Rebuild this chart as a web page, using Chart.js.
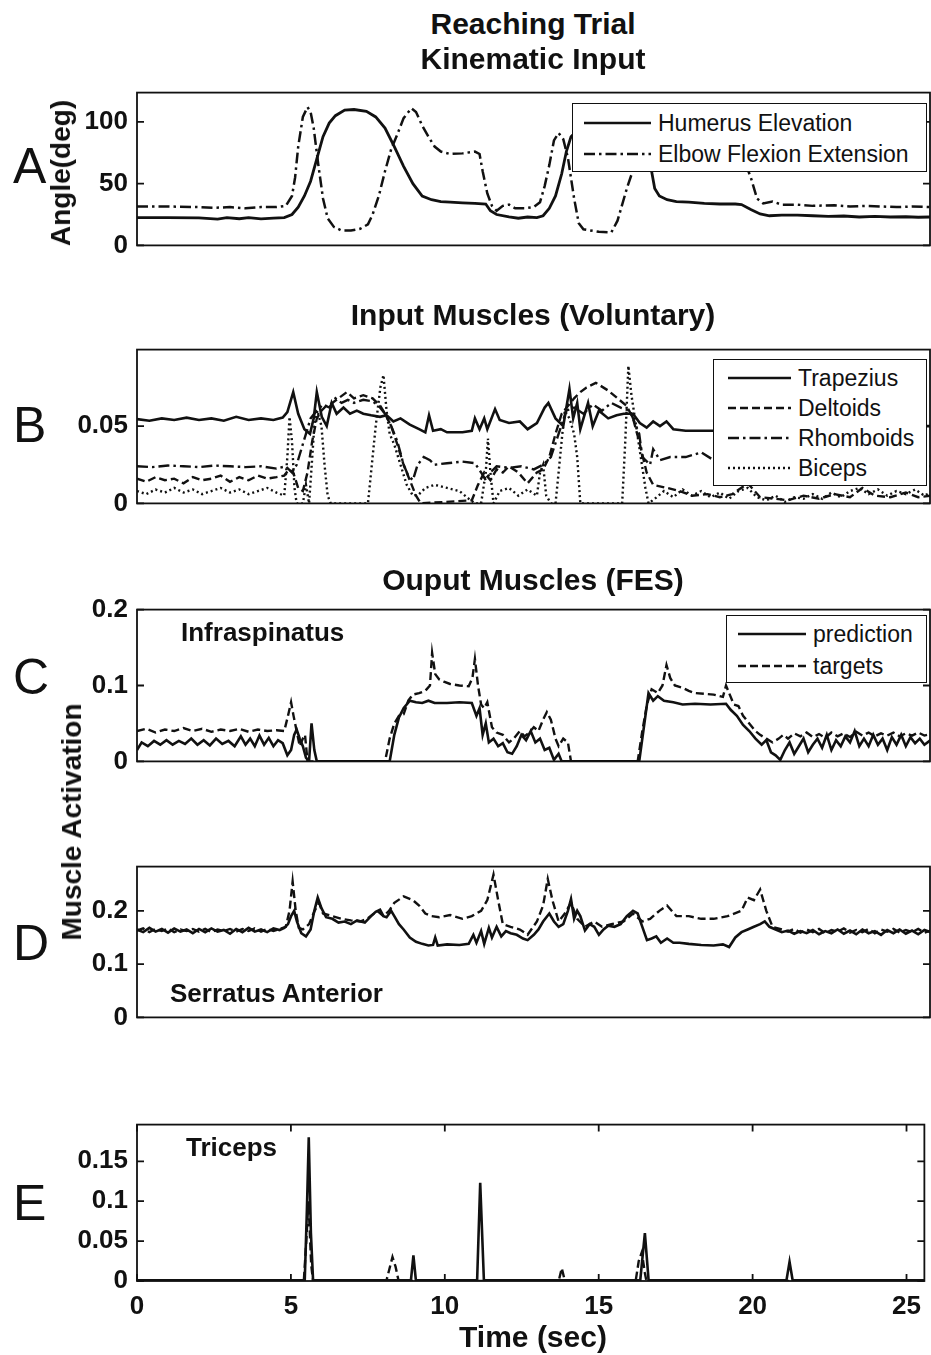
<!DOCTYPE html>
<html><head><meta charset="utf-8">
<script src="https://cdn.jsdelivr.net/npm/chart.js@4.4.1/dist/chart.umd.min.js"></script>
<style>
html,body{margin:0;padding:0;background:#fff;}
#fig{position:relative;width:931px;height:1355px;overflow:hidden;background:#fff;font-family:'Liberation Sans',Arial,sans-serif;color:#111;}
canvas{position:absolute;left:0;}
.t{position:absolute;white-space:nowrap;line-height:1;}
.title{font-weight:bold;font-size:30px;transform:translate(-50%,-50%);}
.letter{font-size:50px;transform:translateY(-50%);}
.ylab{font-weight:bold;font-size:28px;transform:translate(-50%,-50%) rotate(-90deg);}
.inlab{font-weight:bold;font-size:26px;transform:translateY(-50%);}
.legend{position:absolute;background:#fff;border:1.6px solid #111;box-sizing:border-box;z-index:5;}
.legend svg{position:absolute;overflow:visible;}
.legend span{position:absolute;font-size:23px;line-height:1;white-space:nowrap;transform:translateY(-50%);}
</style></head>
<body><div id="fig"></div>
<script>
// ---------------- DATA ----------------
const xMax = 25.58;
const ticksX = [0, 5, 10, 15, 20, 25];
const ticksA = [0, 50, 100];
const ticksB = [0, 0.05];
const ticksC = [0, 0.1, 0.2];
const ticksD = [0, 0.1, 0.2];
const ticksE = [0, 0.05, 0.1, 0.15];

const legendA = ['Humerus Elevation', 'Elbow Flexion Extension'];
const legendB = ['Trapezius', 'Deltoids', 'Rhomboids', 'Biceps'];
const legendC = ['prediction', 'targets'];

// Panel A: kinematic input (deg)
const tHum = [0,1,2,2.6,2.9,3.3,3.6,4.0,4.4,4.75,
 5.0,5.2,5.4,5.6,5.8,6.0,6.2,6.4,6.7,7.0,
 7.4,7.7,8.0,8.3,8.6,8.9,9.2,9.5,9.8,10.1,
 10.5,10.9,11.25,11.4,11.6,12.0,12.3,12.6,12.9,13.1,
 13.3,13.5,13.7,13.85,14.0,14.4,14.8,15.3,15.8,16.2,
 16.45,16.6,16.7,16.85,17.1,17.4,17.8,18.3,18.8,19.3,
 19.5,19.8,20.1,20.4,20.8,21.3,21.8,22.3,22.8,23.3,
 23.8,24.3,24.8,25.2,25.6];
const humerus = [22.5,22.5,22.3,21.3,22.5,21.6,22.4,21.4,22.0,22.5,
 25,31,40,52,70,88,99,105,109.5,110,
 108.5,104,95,80,64,50,40,37,35.5,35,
 34.5,34,33.5,28,25,23,22,23,22.5,24,
 30,40,58,76,88,98,106,108,106,100,
 70,60,46,40,37,35.5,35,34,33.5,33.5,
 33,29,25.5,24,24.5,24.5,24,23.5,23.8,23,
 23.5,23,23.2,22.8,23];

const tElb = [0,1,2,2.5,3,3.5,4,4.5,4.8,5.0,
 5.1,5.2,5.35,5.5,5.6,5.7,5.85,6.0,6.15,6.35,
 6.6,6.9,7.2,7.45,7.6,7.8,8.0,8.2,8.4,8.6,
 8.85,9.0,9.2,9.4,9.6,9.8,10.1,10.5,10.9,11.05,
 11.15,11.3,11.45,11.6,11.8,12.0,12.2,12.5,12.8,13.0,
 13.15,13.3,13.45,13.6,13.75,13.9,14.1,14.25,14.4,14.9,
 15.3,15.5,15.8,16.0,16.2,16.4,16.6,16.8,17.0,17.3,
 18.0,19.0,19.5,19.8,20.0,20.2,20.5,20.8,21.3,21.8,
 22.5,23.0,23.5,24.0,24.5,25.0,25.6];
const elbow = [31.5,31.5,31,30.5,31,30,31,31,32,40,
 55,80,104,112,108,95,65,38,22,15,
 12,12,13.5,17,25,40,60,78,90,103,
 111,108,97,88,80,76,74,74.5,76,74,
 60,42,32,28,32,33,30,30,31,35,
 48,65,85,91,86,71,38,18,13,11,
 10.5,20,46,61,85,105,114,100,85,78,
 76,76,74,55,38,34,35.5,33,33,32,
 32.5,31.5,32,31.5,31,31.5,31];

// Panel B: input muscles (voluntary)
const tTrap = [0,0.4,0.8,1.2,1.6,2.0,2.4,2.8,3.2,3.6,
 4.0,4.4,4.7,4.85,5.04,5.2,5.4,5.58,5.7,5.8,
 5.96,6.12,6.28,6.44,6.66,6.87,7.09,7.3,7.55,7.84,
 8.05,8.27,8.5,8.8,9.1,9.3,9.42,9.55,9.8,10.0,
 10.5,10.8,10.9,11.05,11.2,11.3,11.55,11.7,12.0,12.35,
 12.6,12.9,13.15,13.27,13.5,13.75,13.95,14.07,14.2,14.3,
 14.55,14.7,14.9,15.2,15.47,15.7,16.0,16.22,16.44,16.65,
 16.87,17.08,17.3,17.7,18.16,18.6,19.5,21.0,23.0,24.5,
 25.2,25.6];
const trapezius = [0.0545,0.0535,0.055,0.054,0.0555,0.054,0.055,0.0535,0.056,0.054,
 0.055,0.054,0.0555,0.059,0.072,0.058,0.048,0.045,0.055,0.072,
 0.056,0.05,0.065,0.058,0.062,0.058,0.06,0.058,0.057,0.056,
 0.057,0.053,0.055,0.051,0.048,0.046,0.057,0.047,0.048,0.046,
 0.046,0.047,0.055,0.048,0.055,0.048,0.061,0.054,0.052,0.053,
 0.048,0.052,0.062,0.065,0.055,0.05,0.074,0.055,0.065,0.048,
 0.065,0.05,0.06,0.055,0.057,0.058,0.058,0.052,0.049,0.053,
 0.05,0.053,0.048,0.047,0.047,0.047,0.047,0.048,0.047,0.049,
 0.05,0.05];

const tDelt = [0,0.3,0.6,0.9,1.2,1.5,1.8,2.1,2.4,2.7,
 3.0,3.3,3.6,3.9,4.2,4.5,4.75,4.9,5.04,5.2,
 5.35,5.5,5.65,5.8,5.95,6.1,6.3,6.5,6.77,7.0,
 7.3,7.6,7.85,8.0,8.2,8.4,8.6,8.8,9.0,9.15,
 10.8,11.0,11.2,11.4,11.6,11.8,12.0,12.3,12.6,12.9,
 13.1,13.3,13.5,13.7,13.9,14.1,14.3,14.5,14.8,15.2,
 15.5,15.8,16.0,16.2,16.44,16.65,17.1,17.5,17.9,18.4,
 18.8,19.2,19.7,20.1,20.6,21.0,21.5,22.0,22.5,23.0,
 23.4,23.8,24.3,24.8,25.2,25.6];
const deltoids = [0.016,0.014,0.017,0.015,0.016,0.013,0.017,0.015,0.016,0.018,
 0.014,0.017,0.015,0.018,0.016,0.017,0.018,0.022,0.02,0.01,
 0.008,0.02,0.04,0.055,0.06,0.063,0.065,0.068,0.072,0.068,
 0.07,0.068,0.063,0.058,0.05,0.038,0.025,0.015,0.005,0.0,
 0.002,0.012,0.02,0.015,0.022,0.02,0.024,0.02,0.013,0.02,
 0.022,0.03,0.045,0.058,0.063,0.068,0.072,0.075,0.078,0.073,
 0.068,0.063,0.055,0.04,0.02,0.012,0.01,0.008,0.005,0.006,
 0.004,0.006,0.013,0.004,0.003,0.002,0.005,0.003,0.006,0.004,
 0.01,0.005,0.004,0.007,0.004,0.005];

const tRhom = [0,0.5,1,1.5,2,2.5,3,3.5,4,4.5,
 4.8,5.0,5.15,5.3,5.45,5.6,5.8,6.0,6.2,6.4,
 6.6,6.8,7.0,7.3,7.6,7.8,8.0,8.2,8.4,8.6,
 8.75,8.9,9.05,9.25,9.45,9.6,10.0,10.5,10.9,11.1,
 11.25,11.4,11.6,12.0,12.4,12.8,13.1,13.35,13.6,13.85,
 14.1,14.4,14.7,15.0,15.3,15.6,15.9,16.2,16.3,16.55,
 16.65,16.87,17.2,17.7,18.2,18.6,19.5,20.5,21.5,22.5,
 23.5,24.5,25.6];
const rhomboids = [0.024,0.0235,0.0245,0.024,0.0235,0.0245,0.024,0.0235,0.024,0.0225,
 0.024,0.02,0.025,0.035,0.045,0.055,0.06,0.064,0.062,0.068,
 0.065,0.067,0.065,0.067,0.066,0.063,0.058,0.05,0.04,0.025,
 0.018,0.015,0.025,0.03,0.028,0.025,0.026,0.027,0.026,0.02,
 0.015,0.02,0.024,0.023,0.024,0.022,0.025,0.03,0.045,0.06,
 0.062,0.058,0.064,0.06,0.065,0.062,0.06,0.045,0.03,0.025,
 0.035,0.028,0.03,0.03,0.033,0.028,0.027,0.026,0.025,0.025,
 0.024,0.025,0.024];

const tBic = [0,0.3,0.6,0.9,1.2,1.5,1.8,2.1,2.4,2.7,
 3.0,3.3,3.6,3.9,4.2,4.5,4.75,4.85,4.92,5.0,
 5.08,5.15,5.35,5.45,5.55,5.62,5.72,5.82,5.95,6.05,
 6.15,6.25,7.45,7.55,7.7,7.85,7.95,8.05,8.15,8.3,
 8.5,8.7,8.9,9.1,9.3,9.6,10.0,10.4,10.7,10.9,
 11.1,11.25,11.32,11.4,11.5,11.7,12.0,12.3,12.6,12.9,
 13.0,13.1,13.2,13.35,13.5,13.6,13.72,13.8,13.95,14.1,
 14.2,14.3,15.65,15.75,15.85,15.95,16.1,16.25,16.4,16.5,
 16.7,17.0,17.3,17.6,17.9,18.2,18.5,18.8,19.1,19.4,
 19.7,20.0,20.3,20.6,20.9,21.2,21.5,21.8,22.1,22.4,
 22.7,23.0,23.3,23.6,23.9,24.2,24.5,24.8,25.1,25.4,
 25.6];
const biceps = [0.008,0.006,0.009,0.007,0.01,0.007,0.009,0.006,0.008,0.01,
 0.007,0.009,0.006,0.008,0.01,0.007,0.005,0.03,0.056,0.04,
 0.01,0.0,0.0,0.012,0.0,0.02,0.05,0.06,0.05,0.025,
 0.005,0.0,0.0,0.02,0.05,0.075,0.083,0.06,0.045,0.038,
 0.025,0.012,0.005,0.006,0.01,0.012,0.01,0.008,0.003,0.0,
 0.0,0.02,0.042,0.02,0.0,0.008,0.01,0.005,0.009,0.005,
 0.02,0.025,0.005,0.0,0.0,0.02,0.045,0.06,0.055,0.045,
 0.03,0.0,0.0,0.04,0.089,0.07,0.05,0.03,0.01,0.0,
 0.003,0.008,0.004,0.009,0.005,0.008,0.004,0.007,0.003,0.008,
 0.01,0.004,0.002,0.005,0.001,0.004,0.003,0.006,0.003,0.007,
 0.004,0.008,0.01,0.006,0.009,0.005,0.008,0.006,0.009,0.005,
 0.007];

// Panel C: Infraspinatus
const tCp = [0,0.15,0.35,0.55,0.75,0.95,1.15,1.35,1.55,1.75,
 1.95,2.15,2.35,2.55,2.75,2.95,3.15,3.35,3.5,3.65,
 3.8,3.95,4.1,4.25,4.4,4.55,4.7,4.85,4.97,5.07,
 5.15,5.25,5.35,5.45,5.55,5.63,5.72,5.8,8.15,8.3,
 8.45,8.6,8.8,9.0,9.2,9.4,9.6,10.0,10.4,10.8,
 10.95,11.05,11.15,11.25,11.35,11.5,11.65,11.8,11.95,12.1,
 12.25,12.4,12.55,12.7,12.85,13.0,13.15,13.3,13.45,13.6,
 13.7,16.2,16.35,16.5,16.65,16.8,17.0,17.3,17.6,18.0,
 18.5,19.0,19.15,19.35,19.55,19.75,19.95,20.15,20.3,20.45,
 20.6,20.75,20.9,21.05,21.2,21.35,21.5,21.65,21.8,21.95,
 22.1,22.25,22.4,22.55,22.7,22.85,23.0,23.15,23.3,23.45,
 23.6,23.75,23.9,24.05,24.2,24.35,24.5,24.65,24.8,24.95,
 25.1,25.25,25.4,25.6];
const predC = [0.015,0.025,0.02,0.027,0.022,0.028,0.022,0.027,0.023,0.03,
 0.022,0.028,0.021,0.03,0.023,0.027,0.02,0.033,0.022,0.03,
 0.02,0.034,0.022,0.031,0.02,0.028,0.024,0.008,0.015,0.035,
 0.042,0.03,0.02,0.005,0.0,0.05,0.015,0.0,0.0,0.035,
 0.058,0.07,0.08,0.078,0.077,0.08,0.077,0.077,0.078,0.077,
 0.06,0.07,0.035,0.05,0.025,0.03,0.02,0.024,0.012,0.01,
 0.02,0.035,0.028,0.04,0.025,0.03,0.015,0.018,0.002,0.01,
 0.0,0.0,0.045,0.09,0.08,0.086,0.08,0.078,0.075,0.076,
 0.075,0.076,0.068,0.06,0.048,0.04,0.03,0.022,0.028,0.012,
 0.008,0.002,0.015,0.025,0.01,0.02,0.03,0.012,0.022,0.03,
 0.018,0.035,0.015,0.028,0.02,0.033,0.025,0.04,0.02,0.03,
 0.02,0.035,0.022,0.03,0.015,0.032,0.022,0.035,0.02,0.032,
 0.024,0.03,0.022,0.028];

const tCt = [0,0.3,0.6,0.9,1.2,1.5,1.8,2.1,2.4,2.7,
 3.0,3.3,3.6,3.9,4.2,4.5,4.75,4.87,4.97,5.05,
 5.15,5.25,5.35,5.42,5.5,8.0,8.15,8.3,8.45,8.6,
 8.75,8.9,9.1,9.3,9.45,9.52,9.62,9.75,9.9,10.1,
 10.4,10.7,10.82,10.9,11.0,11.1,11.2,11.3,11.45,11.6,
 11.8,12.0,12.15,12.35,12.5,12.65,12.8,12.95,13.1,13.22,
 13.35,13.5,13.6,13.75,13.9,14.0,16.15,16.3,16.45,16.6,
 16.8,16.95,17.08,17.2,17.35,17.6,17.8,18.0,18.3,18.6,
 18.9,19.0,19.1,19.25,19.4,19.55,19.75,19.95,20.1,20.3,
 20.5,20.7,20.85,21.0,21.2,21.4,21.6,21.8,22.0,22.2,
 22.4,22.6,22.8,23.0,23.2,23.4,23.6,23.8,24.0,24.2,
 24.4,24.6,24.8,25.0,25.2,25.4,25.6];
const targC = [0.04,0.043,0.038,0.042,0.04,0.044,0.04,0.043,0.039,0.042,
 0.04,0.043,0.039,0.042,0.04,0.041,0.04,0.06,0.078,0.06,
 0.04,0.02,0.03,0.035,0.0,0.0,0.03,0.05,0.06,0.062,
 0.08,0.088,0.09,0.093,0.1,0.143,0.115,0.108,0.105,0.102,
 0.1,0.099,0.11,0.135,0.1,0.075,0.07,0.078,0.045,0.038,
 0.035,0.025,0.03,0.04,0.033,0.038,0.045,0.04,0.055,0.065,
 0.055,0.03,0.02,0.03,0.025,0.0,0.0,0.04,0.075,0.095,
 0.09,0.1,0.127,0.11,0.1,0.097,0.093,0.09,0.089,0.088,
 0.085,0.1,0.09,0.075,0.073,0.06,0.05,0.04,0.035,0.03,
 0.025,0.03,0.035,0.03,0.037,0.033,0.038,0.032,0.036,0.031,
 0.038,0.033,0.037,0.032,0.039,0.034,0.038,0.033,0.037,0.034,
 0.038,0.033,0.037,0.034,0.038,0.034,0.036];

// Panel D: Serratus Anterior
const tDp = [0,0.2,0.4,0.6,0.8,1.0,1.2,1.4,1.6,1.8,
 2.0,2.2,2.4,2.6,2.8,3.0,3.2,3.4,3.6,3.8,
 4.0,4.2,4.4,4.6,4.75,4.87,4.97,5.07,5.16,5.3,
 5.45,5.6,5.72,5.83,5.95,6.1,6.3,6.5,6.7,6.9,
 7.1,7.35,7.55,7.7,7.84,7.95,8.05,8.2,8.3,8.45,
 8.6,8.8,9.0,9.2,9.4,9.55,9.62,9.7,10.0,10.4,
 10.7,10.85,10.95,11.1,11.2,11.35,11.45,11.6,11.75,11.9,
 12.05,12.25,12.45,12.6,12.8,12.95,13.1,13.3,13.45,13.6,
 13.75,13.9,14.0,14.1,14.2,14.3,14.45,14.6,14.75,14.9,
 15.05,15.2,15.4,15.6,15.8,16.0,16.15,16.3,16.45,16.6,
 16.75,16.9,17.1,17.3,17.5,17.8,18.2,18.6,18.9,19.1,
 19.3,19.5,19.7,19.9,20.1,20.25,20.4,20.6,20.8,21.0,
 21.2,21.4,21.6,21.8,22.0,22.2,22.4,22.6,22.8,23.0,
 23.2,23.4,23.6,23.8,24.0,24.2,24.4,24.6,24.8,25.0,
 25.2,25.4,25.6];
const predD = [0.165,0.16,0.168,0.161,0.166,0.159,0.167,0.161,0.165,0.158,
 0.166,0.16,0.167,0.161,0.164,0.157,0.166,0.16,0.168,0.161,
 0.165,0.16,0.167,0.164,0.168,0.175,0.19,0.2,0.18,0.158,
 0.152,0.165,0.2,0.225,0.205,0.188,0.185,0.178,0.18,0.175,
 0.182,0.178,0.19,0.198,0.202,0.19,0.188,0.2,0.19,0.175,
 0.165,0.15,0.142,0.138,0.135,0.136,0.15,0.135,0.137,0.136,
 0.138,0.155,0.14,0.162,0.138,0.168,0.15,0.17,0.152,0.162,
 0.158,0.155,0.148,0.145,0.155,0.165,0.18,0.195,0.18,0.17,
 0.175,0.2,0.222,0.185,0.2,0.19,0.163,0.175,0.17,0.155,
 0.165,0.172,0.17,0.175,0.19,0.2,0.195,0.17,0.145,0.148,
 0.152,0.14,0.148,0.14,0.14,0.138,0.136,0.135,0.137,0.132,
 0.15,0.16,0.165,0.17,0.175,0.18,0.17,0.165,0.16,0.163,
 0.157,0.162,0.158,0.164,0.156,0.162,0.158,0.165,0.157,0.163,
 0.156,0.165,0.158,0.162,0.155,0.164,0.158,0.165,0.157,0.163,
 0.156,0.164,0.16];

const tDt = [0,0.2,0.4,0.6,0.8,1.0,1.2,1.4,1.6,1.8,
 2.0,2.2,2.4,2.6,2.8,3.0,3.2,3.4,3.6,3.8,
 4.0,4.2,4.4,4.6,4.8,4.92,5.02,5.12,5.22,5.35,
 5.55,5.73,5.87,6.0,6.3,6.6,6.9,7.2,7.45,7.75,
 7.95,8.13,8.3,8.6,8.9,9.1,9.3,9.5,9.75,10.1,
 10.5,10.8,11.1,11.3,11.5,11.65,11.8,12.05,12.35,12.6,
 12.9,13.1,13.25,13.4,13.6,13.8,14.0,14.2,14.45,14.75,
 15.0,15.3,15.7,16.0,16.3,16.55,16.85,17.1,17.4,17.8,
 18.2,18.6,19.05,19.5,19.7,19.9,20.1,20.3,20.5,20.8,
 21.0,21.2,21.4,21.6,21.8,22.0,22.2,22.4,22.6,22.8,
 23.0,23.2,23.4,23.6,23.8,24.0,24.2,24.4,24.6,24.8,
 25.0,25.2,25.4,25.6];
const targD = [0.163,0.167,0.16,0.166,0.162,0.167,0.16,0.165,0.162,0.166,
 0.161,0.166,0.16,0.165,0.162,0.166,0.161,0.166,0.162,0.167,
 0.161,0.166,0.162,0.166,0.17,0.2,0.255,0.2,0.168,0.165,
 0.175,0.2,0.215,0.195,0.19,0.185,0.182,0.18,0.186,0.2,
 0.19,0.2,0.215,0.227,0.22,0.21,0.195,0.19,0.188,0.192,
 0.185,0.19,0.2,0.22,0.268,0.22,0.175,0.17,0.165,0.155,
 0.18,0.21,0.26,0.22,0.18,0.195,0.215,0.185,0.17,0.18,
 0.17,0.175,0.18,0.195,0.18,0.185,0.2,0.21,0.19,0.19,
 0.185,0.185,0.19,0.2,0.225,0.22,0.24,0.2,0.17,0.165,
 0.161,0.166,0.159,0.165,0.16,0.166,0.158,0.164,0.161,0.167,
 0.159,0.164,0.16,0.166,0.158,0.165,0.161,0.166,0.159,0.164,
 0.16,0.166,0.159,0.163];

// Panel E: Triceps
const tEp = [0,5.45,5.52,5.58,5.65,5.72,8.9,8.98,9.06,11.05,
 11.15,11.27,16.35,16.5,16.62,21.1,21.2,21.3,25.6];
const predE = [0.001,0.001,0.09,0.18,0.06,0.001,0.001,0.032,0.001,0.001,
 0.123,0.001,0.001,0.06,0.001,0.001,0.024,0.001,0.001];
const tEt = [0,5.42,5.5,5.57,5.66,5.72,8.1,8.2,8.3,8.4,
 8.5,13.7,13.8,13.9,16.2,16.3,16.4,16.5,16.55,25.6];
const targE = [0,0,0.05,0.1,0.02,0,0,0.015,0.03,0.018,
 0,0,0.016,0,0,0.025,0.036,0.01,0,0];

// ---------------- STYLES / LAYOUT ----------------
const FONT = "'Liberation Sans', Arial, sans-serif";
Chart.defaults.font.family = FONT;
Chart.defaults.color = '#111';
const INK = '#111';
const SOLID = [], DASH = [8, 4], DASHDOT = [11, 4, 2.5, 4], DOT = [2, 3];

const fig = document.getElementById('fig');
function pts(ts, vs){ return ts.map((t, i) => ({x: t, y: vs[i]})); }
function txt(cls, s, left, top){
  const d = document.createElement('div'); d.className = 't ' + cls; d.textContent = s;
  d.style.left = left + 'px'; d.style.top = top + 'px'; fig.appendChild(d); return d;
}

const framePlugin = {
  id: 'frame',
  afterDatasetsDraw(chart, args, opts){
    const {ctx, chartArea: a} = chart; const y = chart.scales.y, x = chart.scales.x;
    ctx.save(); ctx.strokeStyle = INK; ctx.lineWidth = 1.8; ctx.setLineDash([]);
    ctx.strokeRect(a.left, a.top, a.right - a.left, a.bottom - a.top);
    ctx.beginPath();
    y.ticks.forEach(t => { const p = y.getPixelForValue(t.value);
      ctx.moveTo(a.left, p); ctx.lineTo(a.left + 7, p); ctx.moveTo(a.right, p); ctx.lineTo(a.right - 7, p); });
    if (opts.xTicks) x.ticks.forEach(t => { const p = x.getPixelForValue(t.value);
      ctx.moveTo(p, a.bottom); ctx.lineTo(p, a.bottom - 7); ctx.moveTo(p, a.top); ctx.lineTo(p, a.top + 7); });
    ctx.stroke(); ctx.restore();
  }
};

function panel(p){
  const padT = 20, axisH = p.xTicks ? 44 : 0, padB = p.xTicks ? 0 : 20;
  const c = document.createElement('canvas');
  const h = p.bottom - p.top + padT + padB + axisH;
  c.width = 931; c.height = h; c.style.top = (p.top - padT) + 'px';
  c.style.width = '931px'; c.style.height = h + 'px';
  fig.appendChild(c);
  new Chart(c, {
    type: 'line',
    data: { datasets: p.series.map(s => ({
      data: pts(s.t, s.v), borderColor: INK, borderWidth: s.w || 2.4, borderDash: s.dash,
      pointRadius: 0, tension: 0, fill: false })) },
    options: {
      responsive: false, animation: false, events: [],
      layout: { padding: { top: padT, bottom: padB, left: 0, right: 1 } },
      plugins: { legend: { display: false }, tooltip: { enabled: false }, frame: { xTicks: p.xTicks } },
      scales: {
        x: { type: 'linear', min: 0, max: xMax, display: !!p.xTicks,
             grid: { display: false, drawTicks: false }, border: { display: false },
             afterBuildTicks: s => { s.ticks = ticksX.map(v => ({value: v})); },
             afterFit: s => { s.height = axisH; },
             ticks: { autoSkip: false, maxRotation: 0, padding: 10, color: INK,
                      font: { size: 26, weight: 'bold', family: FONT }, callback: v => String(v) } },
        y: { type: 'linear', min: 0, max: p.yMax,
             grid: { display: false, drawTicks: false }, border: { display: false },
             afterBuildTicks: s => { s.ticks = p.yTicks.map(v => ({value: v})); },
             afterFit: s => { s.width = 137; },
             ticks: { autoSkip: false, padding: 9, color: INK,
                      font: { size: 26, weight: 'bold', family: FONT }, callback: v => String(v) } }
      }
    },
    plugins: [framePlugin]
  });
}

panel({ top: 88, bottom: 250, yMax: 123.7, yTicks: ticksA, series: [
  { t: tHum, v: humerus, dash: SOLID, w: 2.8 }, { t: tElb, v: elbow, dash: DASHDOT, w: 2.5 } ] });
panel({ top: 345, bottom: 508, yMax: 0.0995, yTicks: ticksB, series: [
  { t: tTrap, v: trapezius, dash: SOLID, w: 2.6 }, { t: tDelt, v: deltoids, dash: DASH },
  { t: tRhom, v: rhomboids, dash: DASHDOT }, { t: tBic, v: biceps, dash: DOT } ] });
panel({ top: 605, bottom: 766, yMax: 0.2, yTicks: ticksC, series: [
  { t: tCp, v: predC, dash: SOLID, w: 2.6 }, { t: tCt, v: targC, dash: DASH } ] });
panel({ top: 862, bottom: 1022, yMax: 0.283, yTicks: ticksD, series: [
  { t: tDp, v: predD, dash: SOLID, w: 2.6 }, { t: tDt, v: targD, dash: DASH } ] });
panel({ top: 1120, bottom: 1281, yMax: 0.196, yTicks: ticksE, xTicks: true, series: [
  { t: tEp, v: predE, dash: SOLID, w: 2.6 }, { t: tEt, v: targE, dash: DASH } ] });

// ---------------- TEXT ----------------
txt('title', 'Reaching Trial', 533, 24);
txt('title', 'Kinematic Input', 533, 59);
txt('title', 'Input Muscles (Voluntary)', 533, 315);
txt('title', 'Ouput Muscles (FES)', 533, 580);
txt('title', 'Time (sec)', 533, 1337);
[['A',166],['B',425],['C',677],['D',943],['E',1203]].forEach(([s, y]) => txt('letter', s, 13, y));
txt('ylab', 'Angle(deg)', 61, 173);
txt('ylab', 'Muscle Activation', 72, 822);
txt('inlab', 'Infraspinatus', 181, 632);
txt('inlab', 'Serratus Anterior', 170, 993);
txt('inlab', 'Triceps', 186, 1147);

function legend(names, dashes, box, rows, x1, x2, tx){
  const L = document.createElement('div'); L.className = 'legend';
  Object.assign(L.style, { left: box[0] + 'px', top: box[1] + 'px', width: box[2] + 'px', height: box[3] + 'px' });
  names.forEach((n, i) => {
    const svg = document.createElementNS('http://www.w3.org/2000/svg', 'svg');
    svg.setAttribute('width', x2 - x1); svg.setAttribute('height', 4);
    svg.style.left = x1 + 'px'; svg.style.top = (rows[i] - 2) + 'px';
    const ln = document.createElementNS('http://www.w3.org/2000/svg', 'line');
    ln.setAttribute('x1', 0); ln.setAttribute('x2', x2 - x1); ln.setAttribute('y1', 2); ln.setAttribute('y2', 2);
    ln.setAttribute('stroke', INK); ln.setAttribute('stroke-width', 2.6);
    if (dashes[i].length) ln.setAttribute('stroke-dasharray', dashes[i].join(' '));
    svg.appendChild(ln); L.appendChild(svg);
    const sp = document.createElement('span'); sp.textContent = n;
    sp.style.left = tx + 'px'; sp.style.top = rows[i] + 'px'; L.appendChild(sp);
  });
  fig.appendChild(L);
}
legend(legendA, [SOLID, DASHDOT], [572, 103, 355, 69], [19, 50], 11, 78, 85);
legend(legendB, [SOLID, DASH, DASHDOT, DOT], [713, 359, 214, 127], [18, 48, 78, 108], 14, 77, 84);
legend(legendC, [SOLID, DASH], [726, 615, 201, 68], [18, 50], 11, 79, 86);
</script>
</body></html>
